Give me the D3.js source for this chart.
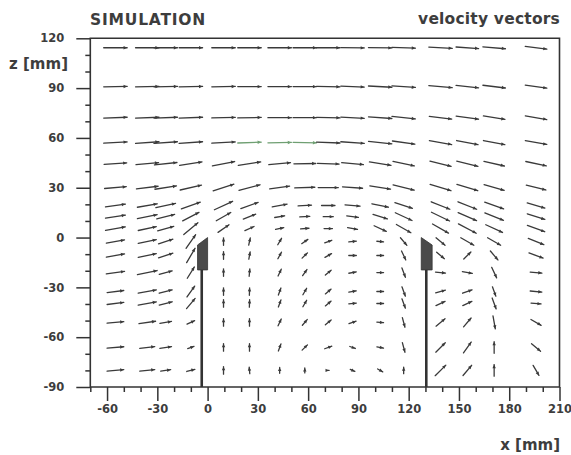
<!DOCTYPE html>
<html>
<head>
<meta charset="utf-8">
<title>SIMULATION - velocity vectors</title>
<script src="https://cdn.jsdelivr.net/npm/d3@7"></script>
<style>
  body { margin: 0; background: #fff; }
  svg text { font-family: "DejaVu Sans", sans-serif; font-weight: bold; fill: #3d3d3d; }
  .tick text { font-size: 11.5px; }
  .title { font-size: 15.5px; }
  .label { font-size: 15px; }
</style>
</head>
<body>
<svg id="chart" width="571" height="455"></svg>
<script>
// mesh columns and rows (mm)
var xs = [-55, -36, -25, -10, 9.5, 25, 43, 58, 72, 86.5, 103, 117, 139, 155, 171, 196];
var zs = [114.3, 90.9, 72.2, 57.2, 44.5, 30.1, 19.3, 12.6, 5.4, -2.4, -10.8, -21.1, -32.5, -39.7, -51.1, -66.2, -80.0];

// flow direction in degrees (0 = +x, 90 = +z), one row per z, top to bottom
var angle = [
  [0, 0, 0, 0, 0, 0, 0, 0, 0, -1, -1, -2, -3, -4, -5, -7],
  [1, 1, 1, 1, 1, 0, 0, 0, -1, -2, -3, -4, -5, -6, -7, -8],
  [2, 2, 2, 2, 1, 1, 0, 0, -1, -3, -4, -6, -7, -8, -9, -10],
  [3, 4, 4, 4, 3, 2, 1, -1, -2, -4, -6, -8, -10, -11, -11, -10],
  [4, 5, 6, 9, 11, 9, 5, 1, -2, -5, -9, -12, -14, -14, -13, -12],
  [5, 7, 9, 13, 18, 15, 8, 2, 0, -4, -9, -14, -17, -17, -16, -14],
  [8, 10, 12, 20, 25, 20, 10, 3, 0, -5, -12, -18, -22, -22, -20, -16],
  [9, 11, 14, 28, 30, 22, 10, 3, 0, -8, -18, -25, -26, -24, -22, -18],
  [10, 12, 16, 40, 35, 25, 12, 5, 0, -10, -25, -30, -30, -28, -25, -20],
  [10, 12, 18, 55, 90, 78, 60, 35, 20, 5, -5, -50, -40, -30, -30, -22],
  [10, 12, 18, 60, 90, 80, 62, 45, 30, 0, 0, -65, -40, 45, -50, -20],
  [8, 12, 15, 58, 90, 85, 65, 55, 40, 10, 0, -70, -5, -10, -65, -5],
  [7, 10, 15, 55, 90, 88, 70, 60, 40, 10, 0, -70, 15, 20, -70, -5],
  [7, 10, 15, 50, 90, 88, 70, 60, 40, 5, 0, -70, 25, 25, -70, -5],
  [5, 8, 10, 25, 90, 90, 65, 50, 40, 20, -5, -75, 40, 50, -80, -30],
  [5, 7, 8, 20, 90, 90, 70, 45, 20, -20, -10, -75, 45, 55, 90, -40],
  [5, 6, 8, 15, 90, 95, 90, 90, 0, -25, -30, 90, 45, 50, 90, -60]
];

// vector length (mm on the plot), same layout
var len = [
  [14, 14, 14, 14, 14, 14, 14, 14, 14, 14, 14, 14, 14, 13.5, 13.5, 13],
  [14, 14, 14, 14, 14, 14, 14, 14, 14, 14, 14, 14, 14, 13.5, 13.5, 13],
  [14, 14, 14, 14, 14, 14, 14, 14, 14, 14, 14, 14, 13.5, 13.5, 13, 13],
  [14, 14, 14, 14, 14, 14, 14, 14, 14, 14, 14, 13.5, 13.5, 13, 13, 13],
  [13.5, 13.5, 13.5, 13.5, 13.5, 13.5, 13, 13, 13, 13, 13, 13, 13, 13, 12.5, 12.5],
  [13, 13, 13, 13, 13, 13, 12, 12, 12, 12, 12.5, 13, 13, 13, 12.5, 12],
  [12, 12, 12, 12, 12, 11, 9, 8, 8, 9, 10, 11, 12, 12, 12, 11],
  [12, 12, 11, 11, 10, 8, 6, 6, 6, 7, 9, 11, 12, 12, 12, 11],
  [12, 11, 10, 11, 8, 6, 5, 5, 5, 6, 8, 10, 11, 12, 11, 11],
  [11, 11, 9, 10, 4.5, 4.5, 4.5, 4.5, 4.5, 4.5, 4, 6, 7, 9, 9, 10],
  [11, 11, 9, 10, 4.5, 4.5, 4.5, 4.5, 4.5, 4.5, 4, 6, 6, 6, 7, 9],
  [11, 12, 8, 8, 4.5, 4.5, 4.5, 4.5, 4.5, 4.5, 4, 6, 6, 6, 7, 7],
  [10, 11, 8, 8, 4.5, 4.5, 4.5, 4.5, 4.5, 4.5, 4, 6, 6, 6, 6, 7],
  [10, 11, 8, 8, 4.5, 4.5, 4.5, 4.5, 4.5, 4.5, 4, 6, 6, 6, 7, 6],
  [10, 10, 7, 5, 4.5, 4.5, 4.5, 4.5, 4.5, 4.5, 4, 6, 7, 7, 8, 7],
  [10, 9, 7, 4, 4.5, 4.5, 4.5, 4.5, 4.5, 3.5, 4, 6, 8, 8, 7, 7],
  [10, 9, 6, 5, 4.5, 4, 3.5, 3, 1, 3, 3.5, 4, 9, 8, 7, 7]
];

var xTicks = [-60, -30, 0, 30, 60, 90, 120, 150, 180, 210];
var zTicks = [-90, -60, -30, 0, 30, 60, 90, 120];

// the two walls (mm): thin plate plus thickened top
var walls = [
  {wx: -3.5, left: -6, right: 0, topL: -4.5, topR: 0, bottom: -19.5},
  {wx: 130.5, left: 127.5, right: 134, topL: 0, topR: -4.5, bottom: -19.5}
];

var svg = d3.select("#chart");
var x = d3.scaleLinear().domain([-70, 210]).range([90.3, 559.5]);
var z = d3.scaleLinear().domain([-90, 120]).range([387, 38.3]);

// titles
svg.append("text").attr("class", "title").attr("x", 90).attr("y", 25)
  .attr("letter-spacing", 0.8).text("SIMULATION");
svg.append("text").attr("class", "title").attr("x", 560).attr("y", 24)
  .attr("text-anchor", "end").attr("letter-spacing", 0.2).text("velocity vectors");
svg.append("text").attr("class", "label").attr("x", 68).attr("y", 69)
  .attr("text-anchor", "end").text("z [mm]");
svg.append("text").attr("class", "label").attr("x", 560).attr("y", 450)
  .attr("text-anchor", "end").text("x [mm]");

// axes: major ticks with labels, minor every 10 mm
function fmt(d) { return String(d); }
var gy = svg.append("g").attr("transform", "translate(" + x(-70) + ",0)").style("color", "#333");
gy.call(d3.axisLeft(z).tickValues(zTicks).tickSize(14).tickPadding(12).tickFormat(fmt));
gy.call(function(g) {
  g.append("g").call(d3.axisLeft(z).tickValues(d3.range(-80, 120, 10).filter(function(v) { return v % 30 !== 0; }))
    .tickSize(5).tickFormat(""));
});
var gx = svg.append("g").attr("transform", "translate(0," + z(-90) + ")").style("color", "#333");
gx.call(d3.axisBottom(x).tickValues(xTicks).tickSize(14).tickPadding(4).tickFormat(fmt));
gx.call(function(g) {
  g.append("g").call(d3.axisBottom(x).tickValues(d3.range(-70, 210, 10).filter(function(v) { return v % 30 !== 0; }))
    .tickSize(5).tickFormat(""));
});
svg.selectAll(".domain").remove();
svg.selectAll(".tick line").attr("stroke-width", 1.5);

// plot frame
svg.append("path")
  .attr("d", "M" + x(-70) + "," + z(120) + "H" + x(210) + "V" + z(-90) + "H" + x(-70) + "Z")
  .attr("fill", "none").attr("stroke", "#333").attr("stroke-width", 1.6);

// walls
svg.selectAll(".wall").data(walls).enter().append("line")
  .attr("class", "wall")
  .attr("x1", function(d) { return x(d.wx); }).attr("x2", function(d) { return x(d.wx); })
  .attr("y1", z(-90)).attr("y2", function(d) { return z(d.bottom); })
  .attr("stroke", "#333").attr("stroke-width", 2.6);
svg.selectAll(".block").data(walls).enter().append("path")
  .attr("class", "block")
  .attr("d", function(d) {
    return "M" + x(d.left) + "," + z(d.bottom) + "L" + x(d.left) + "," + z(d.topL) +
      "L" + x(d.right) + "," + z(d.topR) + "L" + x(d.right) + "," + z(d.bottom) + "Z";
  })
  .attr("fill", "#4a4a4a").attr("stroke", "#333").attr("stroke-width", 0.8);

// velocity vectors, centred on mesh points
var vecs = [];
zs.forEach(function(zv, i) {
  xs.forEach(function(xv, j) {
    var a = angle[i][j] * Math.PI / 180, L = len[i][j];
    var X0 = x(xv - L / 2 * Math.cos(a)), Y0 = z(zv - L / 2 * Math.sin(a));
    var X1 = x(xv + L / 2 * Math.cos(a)), Y1 = z(zv + L / 2 * Math.sin(a));
    // faint green trace of the scan on a few vectors
    var col = (i === 3 && j >= 5 && j <= 7) ? "#6f9f72" : "#3a3a3a";
    vecs.push({X0: X0, Y0: Y0, X1: X1, Y1: Y1, col: col});
  });
});

var gv = svg.append("g");
gv.selectAll("line").data(vecs).enter().append("line")
  .attr("x1", function(d) { return d.X0; }).attr("y1", function(d) { return d.Y0; })
  .attr("x2", function(d) { return d.X1; }).attr("y2", function(d) { return d.Y1; })
  .attr("stroke", function(d) { return d.col; })
  .attr("stroke-width", 1.3).attr("stroke-linecap", "round");

gv.selectAll("path").data(vecs).enter().append("path")
  .attr("d", function(d) {
    var dx = d.X1 - d.X0, dy = d.Y1 - d.Y0, n = Math.sqrt(dx * dx + dy * dy) || 1;
    var ux = dx / n, uy = dy / n, h = 3.6, w = 1.7;
    var bx = d.X1 - h * ux, by = d.Y1 - h * uy;
    return "M" + d.X1 + "," + d.Y1 + "L" + (bx - w * uy) + "," + (by + w * ux) +
      "L" + (bx + w * uy) + "," + (by - w * ux) + "Z";
  })
  .attr("fill", function(d) { return d.col; });
</script>
</body>
</html>
